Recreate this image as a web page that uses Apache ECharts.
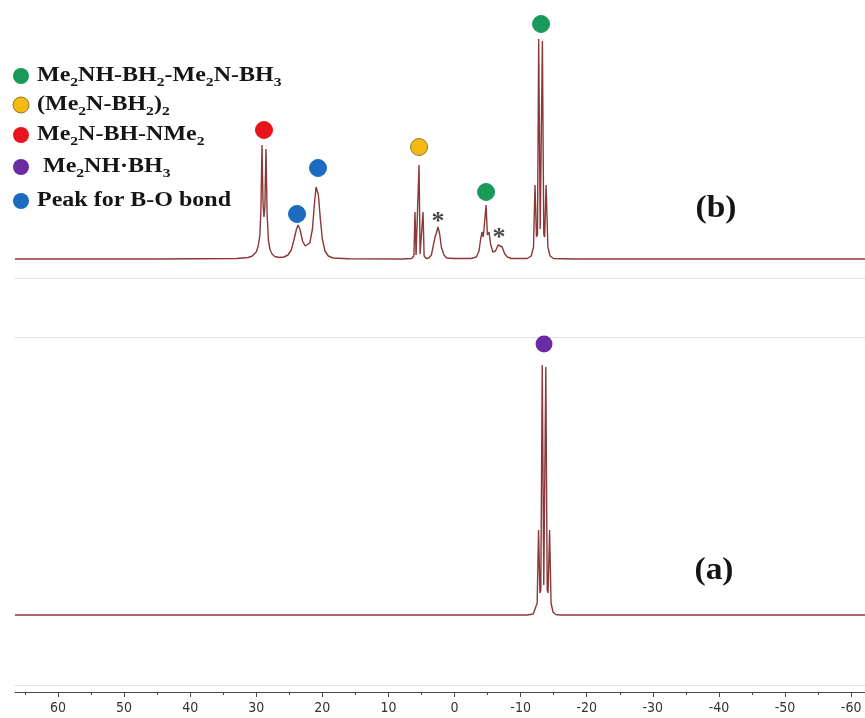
<!DOCTYPE html>
<html><head><meta charset="utf-8">
<script src="https://cdn.jsdelivr.net/npm/echarts@6/dist/echarts.min.js"></script>
<style>html,body{margin:0;padding:0;background:#fff}#c{width:865px;height:718px}</style>
</head><body><div id="c"></div>
<script>
// Spectrum (b): chemical shift (ppm) and intensity
const ppmB = [66.5,45,33,31.2,30.6,30.0,29.7,29.45,29.3,29.13,28.97,28.83,28.7,28.53,28.36,28.15,27.9,27.6,27.2,26.5,25.8,25.2,24.7,24.3,23.95,23.68,23.4,23.0,22.6,22.3,21.9,21.5,21.2,20.95,20.81,20.6,20.3,20.0,19.6,19.1,18.4,16,8,6.5,6.15,5.98,5.82,5.68,5.53,5.37,5.21,5.07,4.93,4.77,4.6,4.3,3.9,3.5,3.2,2.95,2.75,2.5,2.25,2.0,1.6,1.2,0,-2.5,-3.3,-3.7,-3.95,-4.16,-4.35,-4.55,-4.77,-4.97,-5.05,-5.22,-5.45,-5.8,-6.2,-6.6,-6.89,-7.2,-7.6,-8.0,-8.6,-11.0,-11.6,-11.95,-12.17,-12.4,-12.55,-12.73,-12.96,-13.06,-13.29,-13.5,-13.63,-13.85,-14.12,-14.45,-15.0,-18,-62.1];
const intB = [0,0,0.5,1.5,3,7,13,24,48,114,55,42,52,110,45,18,9,5,2.5,1.5,2,4,9,19,29,34,30,18,13,12,16,30,55,72,74,64,40,20,8,3,1,0.3,0,0.5,3,47,4,3,5,94,5,3,4,47,3,0.5,1,4,14,22,26,32,25,12,4,1,0.5,0.5,2,8,20,27,22,24,54,24,22,27,15,7,8,14,16,12,5,2,0.5,0.5,3,12,74,22,25,220,30,30,218,25,22,74,12,3,0.5,0,0];
// Spectrum (a)
const ppmA = [66.5,-11.0,-11.9,-12.2,-12.5,-12.71,-12.92,-13.05,-13.27,-13.5,-13.58,-13.81,-14.02,-14.15,-14.38,-14.6,-14.9,-15.3,-16,-62.1];
const intA = [0,0,1,3,12,85,22,25,250,30,30,248,25,22,85,12,3,0.5,0,0];
// Axis ticks
const tickLabels = [60,50,40,30,20,10,0,-10,-20,-30,-40,-50,-60];
const minorTicks = [65,55,45,35,25,15,5,-5,-15,-25,-35,-45,-55];
// Peak markers (panel b)
const markPpmB = [28.83,23.83,20.66,5.37,-4.77,-13.09];
const markIntB = [129,45,91,112,67,235];
const markColB = ['#e8141c','#1c6bbf','#1c6bbf','#f6b912','#1a9a5a','#1a9a5a'];
// Peak marker (panel a)
const markPpmA = [-13.54];
const markIntA = [271];
const markColA = ['#6b2ca3'];
// Unassigned peaks (*)
const starPpm = [2.5,-6.73];
const starInt = [42,26];
// Legend
const legendColors = ['#1a9a5a','#f6b912','#e8141c','#6b2ca3','#1c6bbf'];
const legendTexts = [
  '{n|Me}{s|2}{n|NH-BH}{s|2}{n|-Me}{s|2}{n|N-BH}{s|3}',
  '{n|(Me}{s|2}{n|N-BH}{s|2}{n|)}{s|2}',
  '{n|Me}{s|2}{n|N-BH-NMe}{s|2}',
  '{n|Me}{s|2}{n|NH·BH}{s|3}',
  '{n|Peak for B-O bond}'
];

const XMIN = -62.1, XMAX = 66.5;
const chart = echarts.init(document.getElementById('c'), null, {renderer:'canvas'});
const zip = (a,b) => a.map((v,i)=>[v,b[i]]);
const baseX = (grid, pos, extra) => Object.assign({
  type:'value', gridIndex:grid, position:pos, min:XMIN, max:XMAX, inverse:true,
  axisLine:{show:true, onZero:false, lineStyle:{color:'#e2e2e2', width:1}},
  axisTick:{show:false}, axisLabel:{show:false}, splitLine:{show:false}
}, extra||{});
const hideY = (grid, min, max) => ({type:'value', gridIndex:grid, min:min, max:max, show:false, splitLine:{show:false}});

const legendGraphics = [];
const legendY = [76,105,135,167,201];
const legendX = [37,37,37,43,37];
legendY.forEach((y,i)=>{
  legendGraphics.push({type:'circle', shape:{cx:21, cy:y, r:8}, style:{fill:legendColors[i], stroke: i===1?'#8b7a3a':null, lineWidth: i===1?1:0}});
  legendGraphics.push({type:'text', x:legendX[i], y:y, scaleX:1.2, style:{
    text:legendTexts[i], textAlign:'left', textVerticalAlign:'middle', fill:'#151515',
    rich:{
      n:{fontFamily:'Liberation Serif', fontWeight:'bold', fontSize:20, lineHeight:26, fill:'#151515'},
      s:{fontFamily:'Liberation Serif', fontWeight:'bold', fontSize:13, lineHeight:26, verticalAlign:'bottom', fill:'#151515'}
    }}});
});
legendGraphics.push({type:'text', x:716, y:209, scaleX:1.08, style:{text:'(b)', textAlign:'center', textVerticalAlign:'middle', font:'bold 31px "Liberation Serif"', fill:'#151515'}});
legendGraphics.push({type:'text', x:714, y:571, scaleX:1.08, style:{text:'(a)', textAlign:'center', textVerticalAlign:'middle', font:'bold 31px "Liberation Serif"', fill:'#151515'}});

const option = {
  animation:false,
  backgroundColor:'#fff',
  grid:[
    {left:15, right:0, top:0, height:278},
    {left:15, right:0, top:337, height:348},
    {left:15, right:0, top:691, height:1},
    {left:15, right:0, top:691, height:1}
  ],
  xAxis:[
    baseX(0,'bottom'),
    baseX(1,'bottom'),
    baseX(1,'top'),
    baseX(2,'bottom',{
      axisLine:{show:true, onZero:false, lineStyle:{color:'#4a4a4a', width:1}},
      axisTick:{show:true, customValues:tickLabels, length:5, lineStyle:{color:'#4a4a4a'}},
      axisLabel:{show:true, customValues:tickLabels, margin:9, color:'#333', fontSize:14, fontFamily:'"Liberation Sans Narrow","DejaVu Sans Condensed",sans-serif'}
    }),
    baseX(3,'bottom',{
      axisLine:{show:false},
      axisTick:{show:true, customValues:minorTicks, length:3, lineStyle:{color:'#4a4a4a'}}
    })
  ],
  yAxis:[hideY(0,-19,259), hideY(1,-70,278), hideY(2,0,1), hideY(3,0,1)],
  graphic:legendGraphics,
  series:[
    {type:'line', xAxisIndex:0, yAxisIndex:0, data:zip(ppmB,intB), showSymbol:false, symbol:'none',
     lineStyle:{color:'#8a3838', width:1.4}, silent:true},
    {type:'line', xAxisIndex:1, yAxisIndex:1, data:zip(ppmA,intA), showSymbol:false, symbol:'none',
     lineStyle:{color:'#8a3838', width:1.4}, silent:true},
    {type:'scatter', xAxisIndex:0, yAxisIndex:0, symbolSize:17,
     data:markPpmB.map((p,i)=>({value:[p,markIntB[i]], itemStyle:{opacity:1, color:markColB[i], borderColor: markColB[i]==='#f6b912'?'#8b7a3a':markColB[i], borderWidth:1}}))},
    {type:'scatter', xAxisIndex:1, yAxisIndex:1, symbolSize:17,
     data:markPpmA.map((p,i)=>({value:[p,markIntA[i]], itemStyle:{opacity:1, color:markColA[i]}}))},
    {type:'scatter', xAxisIndex:0, yAxisIndex:0, symbolSize:1, itemStyle:{color:'rgba(0,0,0,0)'},
     label:{show:true, position:'inside', formatter:'*', offset:[0,5], fontFamily:'Liberation Serif', fontWeight:'bold', fontSize:26, color:'#151515'},
     data:zip(starPpm,starInt)}
  ]
};
chart.setOption(option);
</script></body></html>
